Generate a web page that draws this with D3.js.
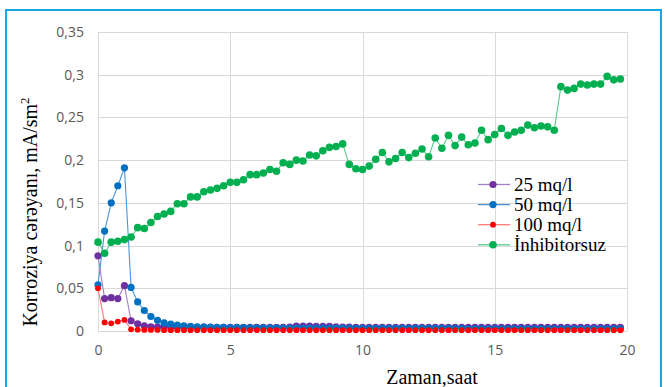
<!DOCTYPE html>
<html>
<head>
<meta charset="utf-8">
<script src="https://cdn.jsdelivr.net/npm/d3@7"></script>
<style>
  html, body { margin: 0; padding: 0; background: #fff; }
  svg { display: block; }
</style>
</head>
<body>
<svg id="chart" width="665" height="387"></svg>
<script>
// Measurement times, hours
const hours = [
  0, 0.25, 0.5, 0.75, 1, 1.25, 1.5, 1.75, 2, 2.25,
  2.5, 2.75, 3, 3.25, 3.5, 3.75, 4, 4.25, 4.5, 4.75,
  5, 5.25, 5.5, 5.75, 6, 6.25, 6.5, 6.75, 7, 7.25,
  7.5, 7.75, 8, 8.25, 8.5, 8.75, 9, 9.25, 9.5, 9.75,
  10, 10.25, 10.5, 10.75, 11, 11.25, 11.5, 11.75, 12, 12.25,
  12.5, 12.75, 13, 13.25, 13.5, 13.75, 14, 14.25, 14.5, 14.75,
  15, 15.25, 15.5, 15.75, 16, 16.25, 16.5, 16.75, 17, 17.25,
  17.5, 17.75, 18, 18.25, 18.5, 18.75, 19, 19.25, 19.5, 19.75
];

// Corrosion current, mA/sm2
const inh25 = [
  0.088, 0.038, 0.039, 0.038, 0.053, 0.012, 0.0085, 0.006, 0.005, 0.0048,
  0.0046, 0.0045, 0.0044, 0.0043, 0.0043, 0.0042, 0.0042, 0.0042, 0.0042, 0.0042,
  0.0042, 0.0042, 0.0042, 0.0042, 0.0042, 0.0042, 0.0042, 0.0042, 0.0043, 0.0045,
  0.0058, 0.0057, 0.0056, 0.0055, 0.0055, 0.0054, 0.0050, 0.0046, 0.0045, 0.0044,
  0.0043, 0.0043, 0.0043, 0.0043, 0.0043, 0.0043, 0.0043, 0.0043, 0.0043, 0.0043,
  0.0043, 0.0043, 0.0043, 0.0043, 0.0044, 0.0044, 0.0044, 0.0044, 0.0044, 0.0044,
  0.0044, 0.0044, 0.0044, 0.0044, 0.0044, 0.0044, 0.0044, 0.0044, 0.0044, 0.0044,
  0.0044, 0.0044, 0.0044, 0.0044, 0.0044, 0.0044, 0.0044, 0.0044, 0.0044, 0.0044
];
const inh50 = [
  0.054, 0.117, 0.150, 0.170, 0.191, 0.051, 0.034, 0.024, 0.017, 0.0125,
  0.0095, 0.008, 0.0068, 0.006, 0.0055, 0.005, 0.0048, 0.0046, 0.0044, 0.0042,
  0.0040, 0.0040, 0.0039, 0.0038, 0.0038, 0.0037, 0.0036, 0.0036, 0.0035, 0.0035,
  0.0035, 0.0034, 0.0034, 0.0034, 0.0033, 0.0033, 0.0033, 0.0033, 0.0032, 0.0032,
  0.0032, 0.0032, 0.0032, 0.0032, 0.0031, 0.0031, 0.0031, 0.0031, 0.0030, 0.0030,
  0.0030, 0.0030, 0.0030, 0.0030, 0.0028, 0.0027, 0.0026, 0.0026, 0.0025, 0.0025,
  0.0025, 0.0025, 0.0025, 0.0025, 0.0025, 0.0025, 0.0025, 0.0025, 0.0025, 0.0025,
  0.0025, 0.0025, 0.0025, 0.0025, 0.0025, 0.0025, 0.0025, 0.0025, 0.0025, 0.0025
];
const inh100 = [
  0.050, 0.010, 0.009, 0.011, 0.013, 0.002, 0.0015, 0.0013, 0.0012, 0.0012,
  0.001, 0.001, 0.001, 0.001, 0.001, 0.001, 0.001, 0.001, 0.001, 0.001,
  0.001, 0.001, 0.001, 0.001, 0.001, 0.001, 0.001, 0.001, 0.001, 0.001,
  0.001, 0.001, 0.001, 0.001, 0.001, 0.001, 0.001, 0.001, 0.001, 0.001,
  0.001, 0.001, 0.001, 0.001, 0.001, 0.001, 0.001, 0.001, 0.001, 0.001,
  0.001, 0.001, 0.001, 0.001, 0.001, 0.001, 0.001, 0.001, 0.001, 0.001,
  0.001, 0.001, 0.001, 0.001, 0.001, 0.001, 0.001, 0.001, 0.001, 0.001,
  0.001, 0.001, 0.001, 0.001, 0.001, 0.001, 0.001, 0.001, 0.001, 0.001
];
const noInhibitor = [
  0.104, 0.091, 0.104, 0.105, 0.107, 0.110, 0.121, 0.120, 0.127, 0.134,
  0.137, 0.140, 0.149, 0.149, 0.157, 0.157, 0.163, 0.165, 0.167, 0.170,
  0.174, 0.174, 0.177, 0.183, 0.183, 0.185, 0.189, 0.187, 0.197, 0.195,
  0.200, 0.199, 0.206, 0.205, 0.211, 0.215, 0.216, 0.219, 0.195, 0.190,
  0.189, 0.193, 0.201, 0.209, 0.198, 0.202, 0.209, 0.203, 0.208, 0.213,
  0.204, 0.226, 0.214, 0.229, 0.217, 0.227, 0.218, 0.220, 0.235, 0.224,
  0.230, 0.237, 0.229, 0.233, 0.235, 0.241, 0.238, 0.240, 0.239, 0.235,
  0.286, 0.282, 0.284, 0.289, 0.288, 0.289, 0.289, 0.298, 0.294, 0.295
];

const seriesNames = ["25 mq/l", "50 mq/l", "100 mq/l", "İnhibitorsuz"];
const xTicks = [0, 5, 10, 15, 20];
const yTicks = [0, 0.05, 0.1, 0.15, 0.2, 0.25, 0.3, 0.35];

const series = [
  { name: seriesNames[0], values: inh25, marker: "#7030a0", line: "#a47fc8", r: 3.6 },
  { name: seriesNames[1], values: inh50, marker: "#0070c0", line: "#4a95d8", r: 3.6 },
  { name: seriesNames[2], values: inh100, marker: "#ff0000", line: "#ff7b7b", r: 2.9 },
  { name: seriesNames[3], values: noInhibitor, marker: "#00b050", line: "#55c98a", r: 3.8 }
];

const svg = d3.select("#chart");

// Outer frame
svg.append("rect")
  .attr("x", 6).attr("y", 10)
  .attr("width", 655).attr("height", 400)
  .attr("fill", "none")
  .attr("stroke", "#14a9e6")
  .attr("stroke-width", 2);

const x = d3.scaleLinear().domain([0, 20]).range([98, 627]);
const y = d3.scaleLinear().domain([0, 0.35]).range([331, 32]);

const fmt = d => d3.format(",")(d).replace(".", ",");

// Gridlines
const grid = svg.append("g");
grid.selectAll("line.h").data(yTicks).join("line")
  .attr("x1", x(0)).attr("x2", x(20))
  .attr("y1", d => Math.round(y(d)) + 0.5).attr("y2", d => Math.round(y(d)) + 0.5)
  .attr("stroke", "#d9d9d9").attr("stroke-width", 1);
grid.selectAll("line.v").data(xTicks).join("line")
  .attr("y1", y(0)).attr("y2", y(0.35))
  .attr("x1", d => Math.round(x(d)) + 0.5).attr("x2", d => Math.round(x(d)) + 0.5)
  .attr("stroke", "#d9d9d9").attr("stroke-width", 1);

// Axes
const yAxis = d3.axisLeft(y).tickValues(yTicks).tickSize(0).tickPadding(14)
  .tickFormat(d => d === 0 ? "0" : String(d).replace(".", ","));
const gy = svg.append("g").attr("transform", `translate(${x(0)},0)`).call(yAxis);
gy.select(".domain").remove();
gy.selectAll("text")
  .attr("font-family", "'Open Sans', 'Noto Sans', sans-serif")
  .attr("font-size", 14).attr("fill", "#595959");

const xAxis = d3.axisBottom(x).tickValues(xTicks).tickSize(0).tickPadding(14)
  .tickFormat(d3.format("d"));
const gx = svg.append("g").attr("transform", `translate(0,${y(0)})`).call(xAxis);
gx.select(".domain").remove();
gx.selectAll("text")
  .attr("font-family", "'Open Sans', 'Noto Sans', sans-serif")
  .attr("font-size", 14).attr("fill", "#595959");

// Series: lines then markers
const line = d3.line().x((d, i) => x(hours[i])).y(d => y(d));
series.forEach(s => {
  const g = svg.append("g");
  g.append("path")
    .attr("d", line(s.values))
    .attr("fill", "none")
    .attr("stroke", s.line)
    .attr("stroke-width", 1.1);
  g.selectAll("circle").data(s.values).join("circle")
    .attr("cx", (d, i) => x(hours[i]))
    .attr("cy", d => y(d))
    .attr("r", s.r)
    .attr("fill", s.marker);
});

// Legend
const legend = svg.append("g");
series.forEach((s, i) => {
  const cy = 184.5 + i * 20.1;
  legend.append("line")
    .attr("x1", 478).attr("x2", 510).attr("y1", cy).attr("y2", cy)
    .attr("stroke", s.line).attr("stroke-width", 1.3);
  legend.append("circle")
    .attr("cx", 493).attr("cy", cy).attr("r", s.r).attr("fill", s.marker);
  legend.append("text")
    .attr("x", 514).attr("y", cy + 6.5)
    .attr("font-family", "'Liberation Serif', 'Times New Roman', serif")
    .attr("font-size", 19).attr("fill", "#000")
    .text(s.name);
});

// Axis titles
svg.append("text")
  .attr("x", 432).attr("y", 384)
  .attr("text-anchor", "middle")
  .attr("font-family", "'Liberation Serif', 'Times New Roman', serif")
  .attr("font-size", 20).attr("fill", "#000")
  .text("Zaman,saat");

const yTitle = svg.append("text")
  .attr("transform", "translate(37,212) rotate(-90)")
  .attr("text-anchor", "middle")
  .attr("font-family", "'Liberation Serif', 'Times New Roman', serif")
  .attr("font-size", 20).attr("fill", "#000");
yTitle.append("tspan").text("Korroziya cərəyanı, mA/sm");
yTitle.append("tspan").attr("font-size", 13).attr("dy", -8).text("2");
</script>
</body>
</html>
